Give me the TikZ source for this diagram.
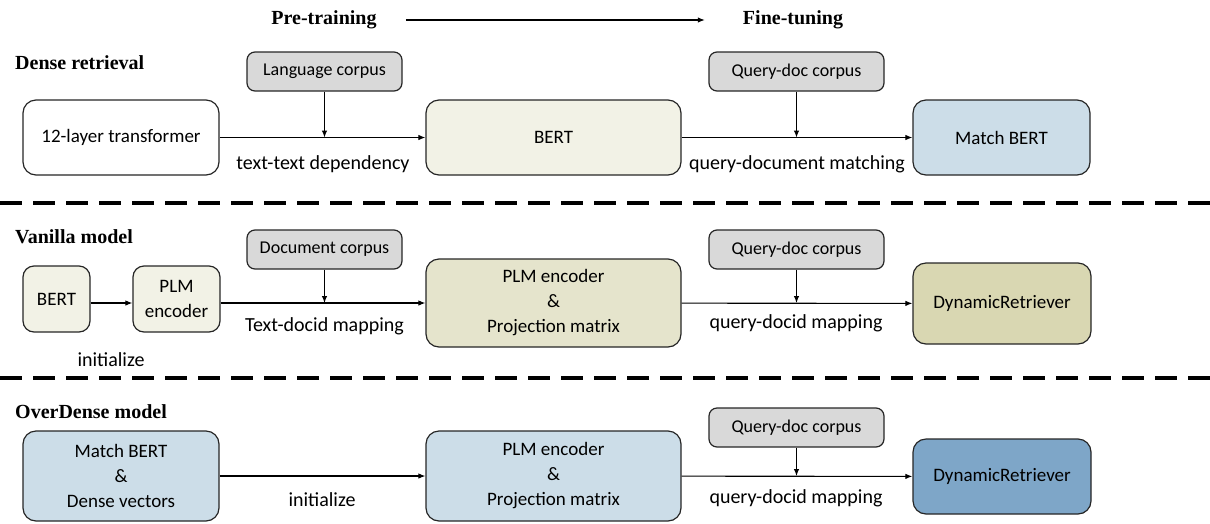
\documentclass[tikz,border=0pt]{standalone}
\usepackage{fontspec}
\setmainfont{Carlito}
\newfontfamily\headfont{Liberation Serif}
\usetikzlibrary{arrows.meta}
\definecolor{beigeL}{HTML}{F2F2E6}
\definecolor{beigeM}{HTML}{E5E4CC}
\definecolor{beigeD}{HTML}{D9D7B2}
\definecolor{blueL}{HTML}{CCDDE8}
\definecolor{blueD}{HTML}{7EA6C8}
\definecolor{grayC}{HTML}{D9D9D9}
\begin{document}
\begin{tikzpicture}[x=1pt,y=-1pt,
  box/.style={draw=black!85, line width=1.2pt, rounded corners=13pt, align=center, inner sep=0pt,
    font=\fontsize{19}{25}\selectfont},
  corp/.style={draw=black!85, line width=1.2pt, rounded corners=8pt, fill=grayC, align=center, inner sep=0pt,
    minimum height=39pt, font=\fontsize{18}{22}\selectfont},
  lbl/.style={inner sep=0pt, font=\fontsize{20}{24}\selectfont},
  head/.style={inner sep=0pt, font=\headfont\bfseries\fontsize{20}{24}\selectfont},
  arr/.style={line width=1.1pt, -{Latex[length=7pt,width=5.5pt]}},
  sep/.style={line width=3.5pt, dash pattern=on 22pt off 11pt}
]
\useasboundingbox (0,0) rectangle (1210,523);

% header
\node[head] (pre) at (324,20) {Pre-training};
\node[head] (fine) at (793,20) {Fine-tuning};
\draw[arr] ([xshift=29pt]pre.east) -- ([xshift=-38pt]fine.west);

% separators
\coordinate (s1a) at (0,203); \coordinate (s1b) at (1210,203);
\coordinate (s2a) at (0,378); \coordinate (s2b) at (1210,378);
\draw[sep] (s1a) -- (s1b);
\draw[sep] (s2a) -- (s2b);

% row 1
\node[head, anchor=west] (h1) at (15,63) {Dense retrieval};
\node[corp, minimum width=155pt] (lc) at (324.5,71.5) {Language corpus};
\node[box, fill=white, minimum width=196pt, minimum height=75pt] (t12) at (121,137.5) {12-layer transformer};
\node[box, fill=beigeL, minimum width=255pt, minimum height=75pt] (bert1) at (553.5,137.5) {BERT};
\node[corp, minimum width=175pt] (qd1) at (796.5,71.5) {Query-doc corpus};
\node[box, fill=blueL, minimum width=177pt, minimum height=75pt] (mb1) at (1001.5,137.5) {Match BERT};
\draw[arr] (t12) -- (bert1);
\draw[arr] (bert1) -- (mb1);
\draw[arr] (lc.south) -- (lc.south |- t12.east);
\draw[arr] (qd1.south) -- (qd1.south |- mb1.west);
\node[lbl] (l1) at (323,164) {text-text dependency};
\node[lbl] (l2) at (797,164) {query-document matching};

% row 2
\node[head, anchor=west] (h2) at (15,237) {Vanilla model};
\node[corp, minimum width=155pt] (dc) at (324.5,249.5) {Document corpus};
\node[box, fill=beigeL, minimum width=67pt, minimum height=66pt, rounded corners=11pt] (bert2) at (56.5,299) {BERT};
\node[box, fill=beigeL, minimum width=87pt, minimum height=66pt, rounded corners=11pt] (plm2s) at (176.5,299) {PLM\\encoder};
\node[box, fill=beigeM, minimum width=255pt, minimum height=88pt] (plm2) at (553.5,303) {PLM encoder\\\&\\Projection matrix};
\node[corp, minimum width=175pt] (qd2) at (796.5,249.5) {Query-doc corpus};
\node[box, fill=beigeD, minimum width=178pt, minimum height=81pt] (dr2) at (1002,303.5) {DynamicRetriever};
\draw[arr] ([yshift=-4pt]bert2.east) -- ([yshift=-4pt]plm2s.west);
\draw[arr] ([yshift=-4pt]plm2s.east) -- (plm2.west);
\draw[arr] (plm2) -- (dr2);
\draw[arr] (dc.south) -- (dc.south |- plm2.east);
\draw[arr] (qd2.south) -- (qd2.south |- plm2.east);
\node[lbl] (l3) at (111,360) {initialize};
\node[lbl] (l4) at (324.5,326) {Text-docid mapping};
\node[lbl] (l5) at (796,323) {query-docid mapping};

% row 3
\node[head, anchor=west] (h3) at (15,412) {OverDense model};
\node[box, fill=blueL, minimum width=196pt, minimum height=90pt] (mbd) at (121,476) {Match BERT\\\&\\Dense vectors};
\node[box, fill=blueL, minimum width=255pt, minimum height=90pt] (plm3) at (553.5,476) {PLM encoder\\\&\\Projection matrix};
\node[corp, minimum width=175pt] (qd3) at (796.5,427.5) {Query-doc corpus};
\node[box, fill=blueD, minimum width=178pt, minimum height=75pt] (dr3) at (1002,476.5) {DynamicRetriever};
\draw[arr] (mbd) -- (plm3);
\draw[arr] (plm3) -- (dr3);
\draw[arr] (qd3.south) -- (qd3.south |- plm3.east);
\node[lbl] (l6) at (322,500) {initialize};
\node[lbl] (l7) at (796,498) {query-docid mapping};
\end{tikzpicture}
\end{document}
